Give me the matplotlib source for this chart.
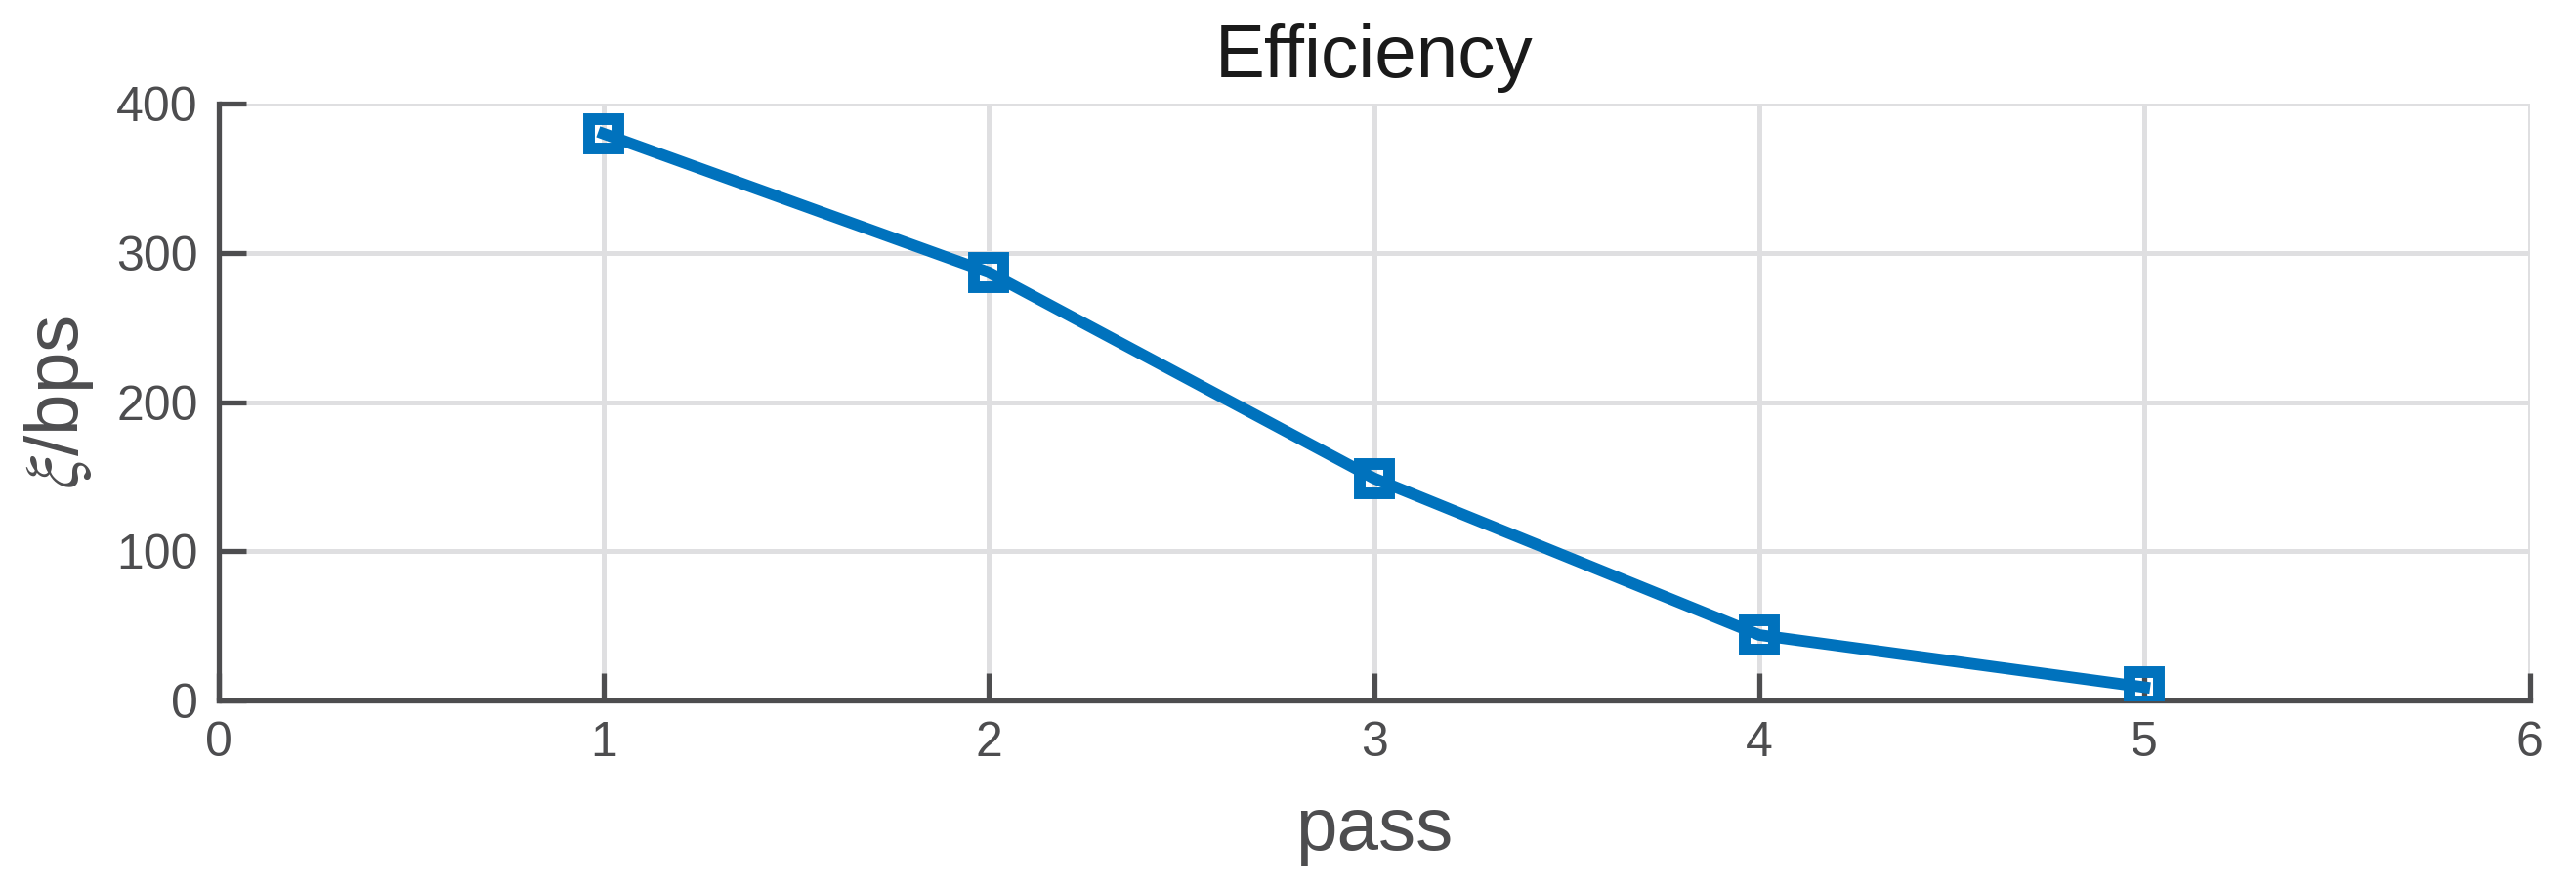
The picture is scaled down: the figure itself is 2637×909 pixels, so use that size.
import numpy as np
import matplotlib
matplotlib.use('Agg')
import matplotlib.pyplot as plt

# data
passes     = [1, 2, 3, 4, 5]
efficiency = [380, 287, 149, 44, 9]

x_ticks = [0, 1, 2, 3, 4, 5, 6]
y_ticks = [0, 100, 200, 300, 400]

plt.rcParams['font.family'] = ['Liberation Sans', 'DejaVu Sans']
plt.rcParams['mathtext.fontset'] = 'stix'

axis_col = '#4d4d4f'
line_col = '#0072bd'
grid_col = '#dfdfe1'

fig = plt.figure(figsize=(26.37, 9.09), dpi=100)
ax = fig.add_axes([0.0848, 0.211, 0.982 - 0.0848, 0.883 - 0.211])

ax.plot(passes, efficiency, color=line_col, linewidth=8.5,
        marker='s', markersize=21.5, markeredgewidth=8.6,
        markerfacecolor='none', markeredgecolor=line_col, zorder=3)

ax.set_xlim(0, 6)
ax.set_ylim(0, 400)
ax.set_xticks(x_ticks)
ax.set_yticks(y_ticks)

ax.grid(True, color=grid_col, linewidth=3.6)
ax.set_axisbelow(True)

for side in ['top', 'right']:
    ax.spines[side].set_visible(False)
for side in ['left', 'bottom']:
    ax.spines[side].set_color(axis_col)
    ax.spines[side].set_linewidth(3.8)

ax.tick_params(direction='in', length=20, width=3.8, colors=axis_col,
               labelsize=36, pad=15)

ax.set_title('Efficiency', fontsize=55, color='#1a1a1a', pad=20)
ax.set_xlabel('pass', fontsize=55, color=axis_col, labelpad=22)
ax.set_ylabel(r'$\xi$/bps', fontsize=55, color=axis_col, labelpad=15)

fig.savefig('out.png', dpi=100)
